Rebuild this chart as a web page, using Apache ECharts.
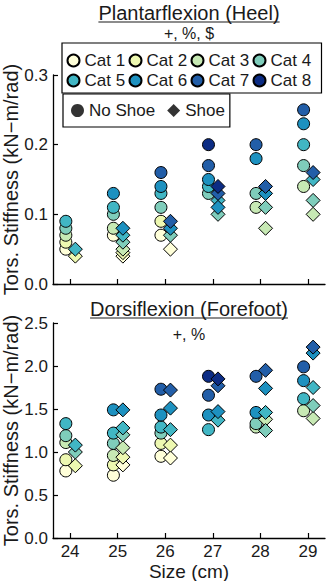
<!DOCTYPE html>
<html>
<head>
<meta charset="utf-8">
<script src="https://cdn.jsdelivr.net/npm/echarts@6/dist/echarts.min.js"></script>
<style>
  html, body { margin: 0; padding: 0; background: #fff; }
  #chart { width: 327px; height: 581px; }
</style>
</head>
<body>
<div id="chart"></div>
<script>
// ---------------------------------------------------------------------------
// Torsional stiffness per shoe size, heel (top) and forefoot (bottom)
// ---------------------------------------------------------------------------
const sizes = [24, 25, 26, 27, 28, 29];
const catNames = ["Cat 1", "Cat 2", "Cat 3", "Cat 4", "Cat 5", "Cat 6", "Cat 7", "Cat 8"];
const catColors = ["#ffffd9", "#edf8b1", "#c7e9b4", "#7fcdbb", "#41b6c4", "#1d91c0", "#225ea8", "#0c2c84"];

// one row per category, one column per size (null = no measurement)
const heelNoShoe = [
  [0.05, 0.07, 0.07, null, null, null],
  [0.06, null, 0.09, null, null, null],
  [0.07, 0.08, null, null, 0.11, 0.14],
  [0.08, 0.10, 0.11, 0.13, 0.13, 0.17],
  [0.09, 0.11, 0.13, 0.14, null, 0.20],
  [null, 0.13, 0.14, 0.15, 0.18, 0.23],
  [null, null, 0.16, 0.17, 0.20, 0.25],
  [null, null, null, 0.20, null, null]
];
const heelShoe = [
  [null, 0.04, 0.05, null, null, null],
  [0.04, 0.045, null, null, null, null],
  [null, 0.05, null, null, 0.08, 0.10],
  [null, 0.06, 0.07, 0.10, 0.11, 0.12],
  [0.05, 0.07, null, 0.12, null, 0.15],
  [null, 0.08, 0.08, 0.11, 0.13, null],
  [null, null, 0.09, 0.13, 0.14, 0.16],
  [null, null, null, 0.14, null, null]
];
const foreNoShoe = [
  [0.78, 0.73, 0.95, null, null, null],
  [0.91, 0.85, 1.10, null, null, null],
  [1.11, 0.96, null, null, 1.29, 1.48],
  [1.19, 1.10, 1.22, null, 1.33, null],
  [1.33, 1.22, 1.29, 1.26, null, 1.62],
  [null, 1.49, 1.43, 1.43, 1.46, 1.83],
  [null, null, 1.73, 1.66, 1.88, 1.99],
  [null, null, null, 1.88, null, null]
];
const foreShoe = [
  [null, 0.85, 0.93, null, null, null],
  [0.84, 0.94, 1.08, null, null, null],
  [null, 1.05, null, null, 1.38, 1.39],
  [1.00, 1.20, null, null, 1.25, 1.54],
  [1.08, 1.28, 1.26, 1.37, 1.46, 1.75],
  [null, 1.49, 1.51, 1.47, 1.74, 2.15],
  [null, null, 1.72, 1.77, 1.95, 2.22],
  [null, null, null, 1.85, null, null]
];

const heelTicks = [0, 0.1, 0.2, 0.3];
const foreTicks = [0, 0.5, 1.0, 1.5, 2.0, 2.5];

const panelTitles = ["Plantarflexion (Heel)", "Dorsiflexion (Forefoot)"];
const panelNotes = ["+, %, $", "+, %"];
const shoeNames = ["No Shoe", "Shoe"];

// ---------------------------------------------------------------------------
const FONT = '"Liberation Sans", Arial, Helvetica, sans-serif';
const INK = "#1a1a1a";
const BARE_DX = -0.09;   // circles sit a bit left of the tick
const SHOE_DX = 0.11;    // diamonds a bit right

function textWidth(str, px) {
  const ctx = document.createElement("canvas").getContext("2d");
  ctx.font = `${px}px ${FONT}`;
  return ctx.measureText(str).width;
}

function scatterSeries(rows, panel, shoe) {
  const dx = shoe ? SHOE_DX : BARE_DX;
  return rows.map((vals, c) => ({
    type: "scatter",
    name: catNames[c],
    xAxisIndex: panel,
    yAxisIndex: panel,
    symbol: shoe ? "diamond" : "circle",
    symbolSize: shoe ? 14 : 12,
    itemStyle: { color: catColors[c], borderColor: "#000", borderWidth: 1, opacity: 1 },
    emphasis: { disabled: true },
    data: sizes.map((s, i) => (vals[i] == null ? null : [s + dx, vals[i]])).filter(Boolean)
  }));
}

function xAxis(grid, withLabels) {
  return {
    type: "value",
    gridIndex: grid,
    min: 23.64,
    max: 29.36,
    axisLine: { show: true, onZero: false, lineStyle: { color: "#000", width: 1.3 } },
    axisTick: { show: true, inside: true, length: 5, customValues: sizes, lineStyle: { color: "#000", width: 1.2 } },
    axisLabel: { show: withLabels, customValues: sizes, margin: 5, fontSize: 17, color: INK, fontFamily: FONT },
    splitLine: { show: false },
    name: withLabels ? "Size (cm)" : "",
    nameLocation: "middle",
    nameGap: 24,
    nameMoveOverlap: false,
    nameTextStyle: { fontSize: 19, color: INK, fontFamily: FONT, verticalAlign: "top" }
  };
}

function yAxis(grid, ticks) {
  return {
    type: "value",
    gridIndex: grid,
    min: ticks[0],
    max: ticks[ticks.length - 1],
    interval: ticks[1] - ticks[0],
    axisLine: { show: true, onZero: false, lineStyle: { color: "#000", width: 1.3 } },
    axisTick: { show: true, inside: true, length: 5, lineStyle: { color: "#000", width: 1.2 } },
    axisLabel: { margin: 5, fontSize: 17, color: INK, fontFamily: FONT, formatter: (v) => v.toFixed(1) },
    splitLine: { show: false },
    name: "Tors. Stiffness (kN\u2212m/rad)",
    nameLocation: "middle",
    nameGap: 32,
    nameMoveOverlap: false,
    nameTextStyle: { fontSize: 20, color: INK, fontFamily: FONT }
  };
}

// titles + underline (ECharts text has no underline of its own)
function titleGraphics(idx, cy, ulY, noteY) {
  const w = textWidth(panelTitles[idx], 20);
  return [
    {
      type: "text", x: 189, y: cy,
      style: { text: panelTitles[idx], font: `20px ${FONT}`, fill: INK, align: "center", verticalAlign: "middle", textAlign: "center", textVerticalAlign: "middle" }
    },
    {
      type: "line",
      shape: { x1: 189 - w / 2, y1: ulY, x2: 189 + w / 2, y2: ulY },
      style: { stroke: INK, lineWidth: 1.2 }
    },
    {
      type: "text", x: 189, y: noteY,
      style: { text: panelNotes[idx], font: `16px ${FONT}`, fill: INK, align: "center", verticalAlign: "middle", textAlign: "center", textVerticalAlign: "middle" }
    }
  ];
}

const series = [
  ...scatterSeries(heelNoShoe, 0, false),
  ...scatterSeries(foreNoShoe, 1, false),
  ...scatterSeries(heelShoe, 0, true),
  ...scatterSeries(foreShoe, 1, true),
  // legend-only entries for the marker shape
  { type: "scatter", name: shoeNames[0], symbol: "circle", itemStyle: { color: "#000" }, data: [] },
  { type: "scatter", name: shoeNames[1], symbol: "diamond", itemStyle: { color: "#000" }, data: [] }
];

const chart = echarts.init(document.getElementById("chart"), null, { renderer: "svg" });
chart.setOption({
  animation: false,
  backgroundColor: "#fff",
  grid: [
    { left: 53, top: 75, width: 272, height: 209, outerBoundsMode: "none" },
    { left: 53, top: 323, width: 272, height: 215, outerBoundsMode: "none" }
  ],
  xAxis: [xAxis(0, false), xAxis(1, true)],
  yAxis: [yAxis(0, heelTicks), yAxis(1, foreTicks)],
  legend: [
    {
      data: catNames.map((n) => ({ name: n, icon: "circle" })),
      left: 62, top: 43, width: 256,
      padding: [9, 10, 4, 4.5],
      itemGap: 3, itemWidth: 12, itemHeight: 12,
      selectedMode: false,
      borderColor: "#000", borderWidth: 1.2, backgroundColor: "#fff",
      formatter: "{a|{name}}",
      textStyle: { rich: { a: { width: 41, fontSize: 17, lineHeight: 15, color: INK, fontFamily: FONT } } }
    },
    {
      data: [{ name: shoeNames[0], icon: "circle" }, { name: shoeNames[1], icon: "diamond" }],
      left: 63, top: 94,
      padding: [8, 5, 8, 8],
      itemGap: 12, itemWidth: 13, itemHeight: 13,
      selectedMode: false,
      borderColor: "#000", borderWidth: 1.2, backgroundColor: "#fff",
      textStyle: { fontSize: 17, lineHeight: 15, color: INK, fontFamily: FONT }
    }
  ],
  graphic: { elements: [...titleGraphics(0, 12.5, 22, 33), ...titleGraphics(1, 308.5, 318, 334)] },
  series
});
</script>
</body>
</html>
